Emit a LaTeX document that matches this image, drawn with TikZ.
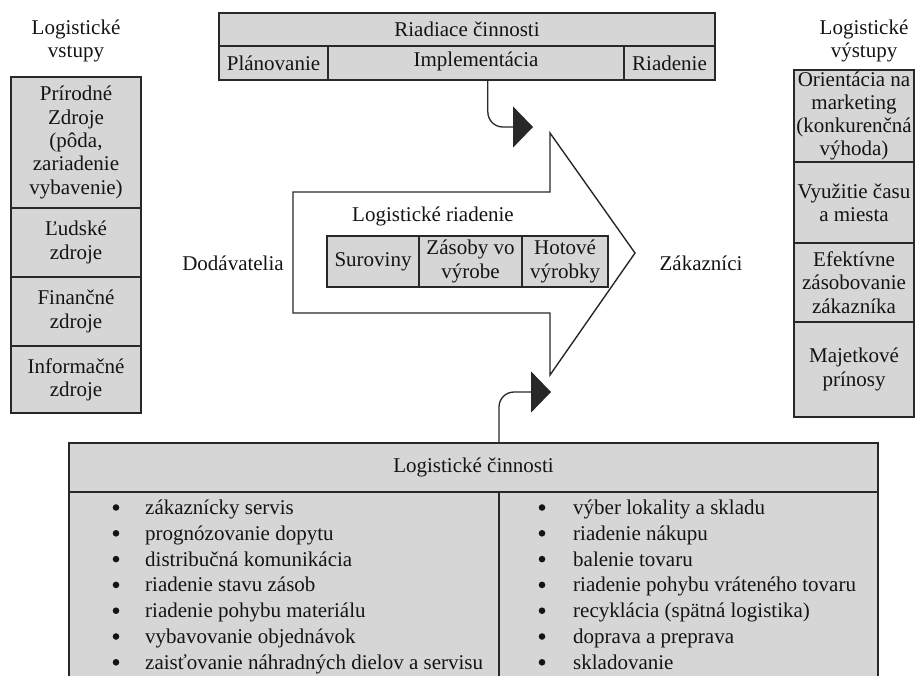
\documentclass[tikz,border=0pt]{standalone}
\usepackage{fontspec}
\setmainfont{Liberation Serif}
\usetikzlibrary{arrows.meta,calc}

\definecolor{boxC}{RGB}{214,214,214}
\definecolor{lineC}{RGB}{40,40,40}
\definecolor{inkC}{RGB}{20,20,20}

\tikzset{
  cell/.style={draw=lineC, fill=boxC, line width=1.1pt, inner sep=0pt, outer sep=0pt,
    align=center, text=inkC, font=\fontsize{21}{23.3}\selectfont},
  plain/.style={inner sep=0pt, align=center, text=inkC, font=\fontsize{21}{23.3}\selectfont},
  item/.style={inner sep=0pt, anchor=base west, text=inkC, font=\fontsize{21}{26}\selectfont},
  dot/.style={circle, fill=inkC, inner sep=0pt, minimum size=6.6pt},
  flow/.style={draw=lineC, fill=white, line width=1.4pt, line join=miter},
  conn/.style={draw=lineC, line width=1.3pt, rounded corners=15pt,
    -{Triangle[length=20pt,width=41pt]}},
}

\begin{document}
\begin{tikzpicture}[x=1pt, y=-1pt]
\useasboundingbox (0,0) rectangle (915,675);

% inputs column
\node[plain] (inTitle) at (76,41) {Logistické\\vstupy};
\node[cell, minimum width=130pt, minimum height=131pt] (in1) at (76,142.5)
  {Prírodné\\Zdroje\\(pôda,\\zariadenie\\vybavenie)};
\node[cell, minimum width=130pt, minimum height=69pt] (in2) at (76,242.5) {Ľudské\\zdroje};
\node[cell, minimum width=130pt, minimum height=69pt] (in3) at (76,311.5) {Finančné\\zdroje};
\node[cell, minimum width=130pt, minimum height=67pt] (in4) at (76,379.5) {Informačné\\zdroje};

% outputs column
\node[plain] (outTitle) at (864,41) {Logistické\\výstupy};
\node[cell, minimum width=120pt, minimum height=92pt] (out1) at (854,116)
  {Orientácia na\\marketing\\(konkurenčná\\výhoda)};
\node[cell, minimum width=120pt, minimum height=81pt] (out2) at (854,202.5) {Využitie času\\a miesta};
\node[cell, minimum width=120pt, minimum height=79pt] (out3) at (854,282.5)
  {Efektívne\\zásobovanie\\zákazníka};
\node[cell, minimum width=120pt, minimum height=95pt] (out4) at (854,369.5) {Majetkové\\prínosy};

% control activities
\node[cell, minimum width=496pt, minimum height=33pt] (ctrl) at (467,29.5) {Riadiace činnosti};
\node[cell, minimum width=109pt, minimum height=34pt] (plan) at (273.5,63) {Plánovanie};
\node[cell, minimum width=296pt, minimum height=34pt] (impl) at (476,63) {\raisebox{7pt}{Implementácia}};
\node[cell, minimum width=91pt, minimum height=34pt] (ctl) at (669.5,63) {Riadenie};

% central flow arrow
\draw[flow] (293,192) -- (550,192) -- (550,133) -- (635,253) -- (550,375)
  -- (550,313) -- (293,313) -- cycle;
\node[plain] (lrTitle) at (433,216) {Logistické riadenie};
\node[cell, minimum width=92pt, minimum height=51pt] (raw) at (373,261.5) {Suroviny};
\node[cell, minimum width=103pt, minimum height=51pt] (wip) at (470.5,261.5) {Zásoby vo\\výrobe};
\node[cell, minimum width=86pt, minimum height=51pt] (fin) at (565,261.5) {Hotové\\výrobky};

\node[plain] (supp) at (233,263) {Dodávatelia};
\node[plain] (cust) at (701,263) {Zákazníci};

% logistic activities
\node[cell, minimum width=809pt, minimum height=49pt] (acthead) at (473.5,467.5) {Logistické činnosti};
\node[cell, minimum width=430pt, minimum height=192pt, anchor=north west] (actL) at (69,492) {};
\node[cell, minimum width=379pt, minimum height=192pt, anchor=north west] (actR) at (499,492) {};

\foreach \t [count=\i from 0] in {zákaznícky servis, prognózovanie dopytu,
    distribučná komunikácia, riadenie stavu zásob, riadenie pohybu materiálu,
    vybavovanie objednávok, zaisťovanie náhradných dielov a servisu} {
  \node[dot] (bL\i) at (116,507.5+25.8*\i) {};
  \node[item] (L\i) at (145,514.5+25.8*\i) {\t};
}

\foreach \t [count=\i from 0] in {výber lokality a skladu, riadenie nákupu,
    balenie tovaru, riadenie pohybu vráteného tovaru, recyklácia (spätná logistika),
    doprava a preprava, skladovanie} {
  \node[dot] (bR\i) at (542,507.5+25.8*\i) {};
  \node[item] (R\i) at (573,514.5+25.8*\i) {\t};
}

% connectors into the flow
\coordinate (tipA) at (533,127);
\coordinate (tipB) at (551,392);
\draw[conn] ($(impl.south west)!0.54!(impl.south east)$) |- (tipA);
\draw[conn] (acthead.north -| actL.east) |- (tipB);
\end{tikzpicture}
\end{document}
